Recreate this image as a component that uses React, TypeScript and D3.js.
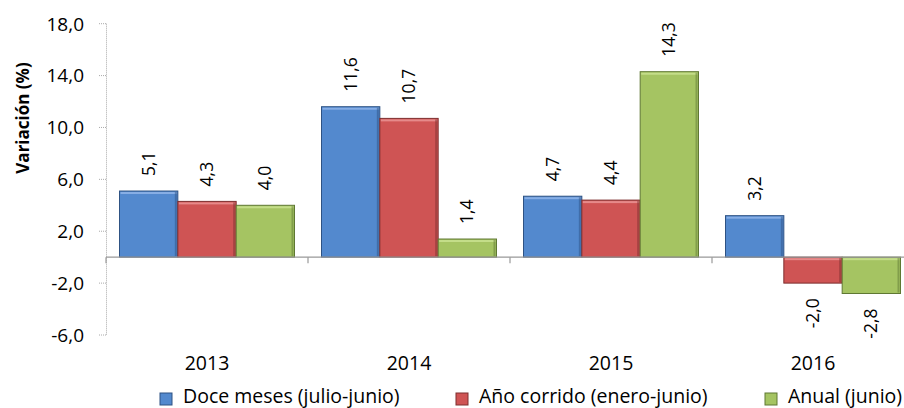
import React from "react";
import * as d3 from "d3";

const years = ["2013", "2014", "2015", "2016"];
const seriesNames = ["Doce meses (julio-junio)", "Año corrido (enero-junio)", "Anual (junio)"];
const doceMeses = [5.1, 11.6, 4.7, 3.2];
const anoCorrido = [4.3, 10.7, 4.4, -2.0];
const anual = [4.0, 1.4, 14.3, -2.8];
const yTicks = [-6, -2, 2, 6, 10, 14, 18];

const seriesValues = [doceMeses, anoCorrido, anual];
const fills = ["#5389CE", "#CF5454", "#A5C462"];
const lights = ["#8DB3E8", "#E89090", "#C8E08E"];
const darks = ["#2E5283", "#7E2F2F", "#5F7833"];

const W = 904;
const H = 408;
const FONT = "'Open Sans', 'Liberation Sans', sans-serif";

export default function App() {
  const y = d3.scaleLinear().domain([-6, 18]).range([335, 23.7]);
  const x0 = d3.scaleBand<string>().domain(years).range([106, 914]);
  const x1 = d3
    .scaleBand<number>()
    .domain([0, 1, 2])
    .range([13.5, x0.bandwidth() - 13.5]);
  const fmt = (v: number) => v.toFixed(1).replace(".", ",");
  const y0 = y(0);

  const legendX = [160, 456, 765];

  return (
    <svg
      width={W}
      height={H}
      style={{ position: "absolute", left: 0, top: 0, background: "#fff" }}
      fontFamily={FONT}
    >
      <rect x={0} y={0} width={W} height={H} fill="#fff" />
      {/* y axis */}
      <line x1={106.5} x2={106.5} y1={y(18)} y2={y(-6)} stroke="#aaa" strokeDasharray="1,1" />
      {yTicks.map((t) => (
        <g key={t}>
          <line x1={99} x2={106} y1={y(t)} y2={y(t)} stroke="#aaa" strokeDasharray="1,1" />
          <text x={84} y={y(t)} dy="0.36em" textAnchor="end" fontSize={19} fill="#000">
            {fmt(t)}
          </text>
        </g>
      ))}
      <text
        transform={`translate(23,118) rotate(-90)`}
        textAnchor="middle"
        dy="0.35em"
        fontSize={17}
        fontWeight="bold"
        fill="#000"
      >
        Variación (%)
      </text>

      {/* bars */}
      {years.map((yr, i) => (
        <g key={yr} transform={`translate(${x0(yr)},0)`}>
          {seriesValues.map((vals, s) => {
            const v = vals[i];
            const bx = x1(s)!;
            const bw = x1.bandwidth();
            const top = Math.min(y(v), y0);
            const h = Math.abs(y(v) - y0);
            const cx = bx + bw / 2;
            return (
              <g key={s}>
                <rect x={bx} y={top} width={bw} height={h} fill={fills[s]} stroke={darks[s]} strokeWidth={1} />
                <rect x={bx + 1} y={top + 1} width={bw - 2} height={2} fill={lights[s]} opacity={0.9} />
                <rect x={bx + bw - 3} y={top + 1} width={2} height={Math.max(0, h - 2)} fill={darks[s]} opacity={0.5} />
                {v >= 0 ? (
                  <text
                    transform={`translate(${cx},${y(v) - 15}) rotate(-90)`}
                    textAnchor="start"
                    dy="0.35em"
                    fontSize={17.5}
                    fill="#000"
                  >
                    {fmt(v)}
                  </text>
                ) : (
                  <text
                    transform={`translate(${cx},${y(v) + 15}) rotate(-90)`}
                    textAnchor="end"
                    dy="0.35em"
                    fontSize={17.5}
                    fill="#000"
                  >
                    {fmt(v)}
                  </text>
                )}
              </g>
            );
          })}
          <text x={x0.bandwidth() / 2} y={370} textAnchor="middle" fontSize={19.5} fill="#000">
            {yr}
          </text>
        </g>
      ))}

      {/* x axis */}
      <line x1={106} x2={914} y1={y0} y2={y0} stroke="#999" strokeWidth={1.2} />
      {years.map((yr) => (
        <line key={yr} x1={x0(yr)!} x2={x0(yr)!} y1={y0} y2={y0 + 6} stroke="#999" strokeWidth={1.2} />
      ))}

      {/* legend */}
      {seriesNames.map((name, s) => (
        <g key={name}>
          <rect x={legendX[s]} y={393} width={12} height={12} fill={fills[s]} stroke={darks[s]} />
          <text x={legendX[s] + 23} y={403} fontSize={19.5} fill="#000">
            {name}
          </text>
        </g>
      ))}
    </svg>
  );
}
